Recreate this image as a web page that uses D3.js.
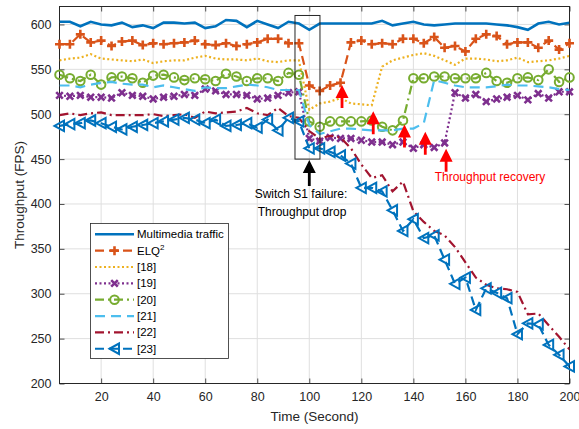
<!DOCTYPE html>
<html><head><meta charset="utf-8">
<script src="https://cdn.jsdelivr.net/npm/d3@7"></script>
<style>body{margin:0;background:#fff}svg text{font-family:"Liberation Sans",Arial,Helvetica,sans-serif}</style>
</head><body><svg id="c" width="579" height="429"></svg>
<script>
const time = [4,8,12,16,20,24,28,32,36,40,44,48,52,56,60,64,68,72,76,80,84,88,92,96,100,104,108,112,116,120,124,128,132,136,140,144,148,152,156,160,164,168,172,176,180,184,188,192,196,200];
const multimedia = [603,603,598,603,600,599,602,597,599,596,602,602,601,602,596,598,605,604,597,604,600,596,603,601,594,601,601,601,601,601,601,604,599,601,603,600,599,600,601,601,601,601,600,599,597,594,601,603,600,602];
const elq2 = [578,578,589,580,582,576,581,582,577,579,578,579,580,582,578,577,579,576,578,580,584,584,579,579,532,526,532,535,580,582,578,579,578,584,584,579,586,574,576,570,584,589,587,578,580,580,574,582,572,579];
const ref18 = [560,562,563,567,562,561,560,559,561,557,559,560,560,563,565,562,561,561,560,562,559,558,560,560,505,512,514,518,512,511,510,553,560,563,566,568,565,560,555,562,562,561,559,560,563,558,559,560,562,565];
const ref19 = [521,520,521,519,519,518,524,521,520,517,519,520,522,521,528,526,522,522,521,517,518,521,524,525,473,470,474,473,473,471,469,469,466,469,462,466,463,468,524,518,522,514,517,519,521,516,523,518,525,525];
const ref20 = [544,540,537,544,533,541,542,540,535,543,544,541,538,540,539,537,545,542,537,540,540,537,546,544,492,486,492,492,492,492,493,486,482,493,540,540,542,542,540,540,540,546,537,535,540,541,538,550,536,541];
const ref21 = [532,532,530,533,535,536,534,533,533,530,532,530,528,526,530,529,529,531,533,532,530,527,527,527,488,478,481,484,484,483,482,482,482,484,484,490,538,535,532,530,530,530,531,533,532,532,531,530,528,527];
const ref22 = [499,501,499,501,502,499,499,499,499,500,498,499,500,496,503,501,502,503,507,501,499,507,498,496,481,473,476,474,462,444,429,432,414,425,392,380,370,365,352,335,318,310,306,305,302,277,278,265,252,238];
const ref23 = [487,489,490,493,490,486,483,486,488,490,492,494,496,494,490,494,487,488,490,485,494,482,496,492,462,462,458,454,445,418,418,414,393,370,383,362,365,338,311,318,282,306,301,295,255,267,266,243,232,219];
const seriesNames = ["Multimedia traffic","ELQ2","[18]","[19]","[20]","[21]","[22]","[23]"];
const xTicks = [20,40,60,80,100,120,140,160,180,200];
const yTicks = [200,250,300,350,400,450,500,550,600];
const annoDrop = ["Switch S1 failure:","Throughput drop"];
const annoRecovery = "Throughput recovery";
const failureTime = [94.5,104.1];
const failureRange = [450,610];
const recoveryPoints = [[112,538],[124,509],[136,494],[144,486],[152,467]];

const series = [
  {name:seriesNames[0], data:multimedia, color:"#0072BD", dash:null, width:2.6, marker:null},
  {name:seriesNames[1], data:elq2, color:"#D95319", dash:"9,5", width:2.2, marker:"plus"},
  {name:seriesNames[2], data:ref18, color:"#EDB120", dash:"2,2.5", width:2.2, marker:null},
  {name:seriesNames[3], data:ref19, color:"#7E2F8E", dash:"2,2.5", width:2.2, marker:"x"},
  {name:seriesNames[4], data:ref20, color:"#77AC30", dash:"9,4,2,4", width:2.2, marker:"circle"},
  {name:seriesNames[5], data:ref21, color:"#4DBEEE", dash:"10,6", width:2.2, marker:null},
  {name:seriesNames[6], data:ref22, color:"#A2142F", dash:"9,4,2,4", width:2.2, marker:null},
  {name:seriesNames[7], data:ref23, color:"#0072BD", dash:"9,5", width:2.2, marker:"tri"}
];

const svg = d3.select("#c");
const L=59.5, R=569.5, T=6.5, B=383.5;
const x = d3.scaleLinear().domain([4,200]).range([L,R]);
const y = d3.scaleLinear().domain([200,620]).range([B,T]);
const axisCol="#262626";

// grid
const g = svg.append("g");
g.selectAll(".gx").data(xTicks).enter().append("line")
  .attr("x1",d=>x(d)).attr("x2",d=>x(d)).attr("y1",T).attr("y2",B)
  .attr("stroke","#dfdfdf").attr("stroke-width",1);
g.selectAll(".gy").data(yTicks).enter().append("line")
  .attr("y1",d=>y(d)).attr("y2",d=>y(d)).attr("x1",L).attr("x2",R)
  .attr("stroke","#dfdfdf").attr("stroke-width",1);

// axes
const xAxB = d3.axisBottom(x).tickValues(xTicks).tickSizeInner(-5).tickSizeOuter(0).tickPadding(9);
const xAxT = d3.axisTop(x).tickValues(xTicks).tickSizeInner(-5).tickSizeOuter(0).tickFormat("");
const yAxL = d3.axisLeft(y).tickValues(yTicks).tickSizeInner(-5).tickSizeOuter(0).tickPadding(8);
const yAxR = d3.axisRight(y).tickValues(yTicks).tickSizeInner(-5).tickSizeOuter(0).tickFormat("");
function styleAx(sel){
  sel.select(".domain").remove();
  sel.selectAll("line").attr("stroke",axisCol).attr("stroke-width",0.8);
  sel.selectAll("text").attr("fill",axisCol).style("font-size","12.5px").style("font-family","'Liberation Sans',Arial,sans-serif");
}
svg.append("g").attr("transform",`translate(0,${B})`).call(xAxB).call(styleAx);
svg.append("g").attr("transform",`translate(0,${T})`).call(xAxT).call(styleAx);
svg.append("g").attr("transform",`translate(${L},0)`).call(yAxL).call(styleAx);
svg.append("g").attr("transform",`translate(${R},0)`).call(yAxR).call(styleAx);
svg.append("rect").attr("x",L).attr("y",T).attr("width",R-L).attr("height",B-T)
  .attr("fill","none").attr("stroke",axisCol).attr("stroke-width",1);

svg.append("text").attr("x",(L+R)/2).attr("y",421).attr("text-anchor","middle")
  .attr("fill",axisCol).style("font-size","13.5px").text("Time (Second)");
svg.append("text").attr("transform",`translate(24,${(T+B)/2}) rotate(-90)`).attr("text-anchor","middle")
  .attr("fill",axisCol).style("font-size","13.5px").text("Throughput (FPS)");

// markers
function drawMarker(sel, type, color){
  if(type==="plus"){
    sel.append("path").attr("d","M-4.5,0H4.5M0,-4.5V4.5").attr("stroke",color).attr("stroke-width",2.6).attr("fill","none");
  } else if(type==="x"){
    sel.append("path").attr("d","M-3.3,-3.3L3.3,3.3M-3.3,3.3L3.3,-3.3").attr("stroke",color).attr("stroke-width",2.6).attr("fill","none");
  } else if(type==="circle"){
    sel.append("circle").attr("r",4.3).attr("stroke",color).attr("stroke-width",2).attr("fill","none");
  } else if(type==="tri"){
    sel.append("path").attr("d","M-5,0L4.5,-5.2L4.5,5.2Z").attr("stroke",color).attr("stroke-width",2).attr("fill","none").attr("stroke-linejoin","miter");
  }
}

svg.append("clipPath").attr("id","clip").append("rect").attr("x",L).attr("y",T).attr("width",R-L).attr("height",B-T);
const line = d3.line().x((d,i)=>x(time[i])).y(d=>y(d));
const plot = svg.append("g");
series.forEach(s=>{
  plot.append("path").attr("d",line(s.data)).attr("fill","none").attr("stroke",s.color)
    .attr("stroke-width",s.width).attr("stroke-dasharray",s.dash).attr("clip-path","url(#clip)");
  if(s.marker){
    s.data.forEach((v,i)=>{
      const m = plot.append("g").attr("transform",`translate(${x(time[i])},${y(v)})`);
      drawMarker(m, s.marker, s.color);
    });
  }
});

// legend
const lg = svg.append("g");
lg.append("rect").attr("x",90.5).attr("y",223.5).attr("width",138).attr("height",135)
  .attr("fill","#fff").attr("stroke",axisCol).attr("stroke-width",0.8);
series.forEach((s,k)=>{
  const yy = 234.3 + k*16.35;
  lg.append("line").attr("x1",95).attr("x2",134).attr("y1",yy).attr("y2",yy)
    .attr("stroke",s.color).attr("stroke-width",s.width).attr("stroke-dasharray",s.dash);
  if(s.marker){ drawMarker(lg.append("g").attr("transform",`translate(114.5,${yy})`), s.marker, s.color); }
  const t = lg.append("text").attr("x",137).attr("y",yy+4).attr("fill","#000").style("font-size","11.5px");
  if(s.name==="ELQ2"){
    t.append("tspan").text("ELQ");
    t.append("tspan").attr("dy",-5).style("font-size","8px").text("2");
  } else t.text(s.name);
});

// failure box
svg.append("rect").attr("x",x(failureTime[0])).attr("y",y(failureRange[1])).attr("width",x(failureTime[1])-x(failureTime[0]))
  .attr("height",y(failureRange[0])-y(failureRange[1])).attr("fill","none").attr("stroke","#262626").attr("stroke-width",1);

function arrow(cx, tipY, tailY, color){
  const hw=6.5, hl=13, sw=1.4;
  svg.append("path").attr("d",
    `M${cx},${tipY}L${cx+hw},${tipY+hl}L${cx+sw},${tipY+hl}L${cx+sw},${tailY}L${cx-sw},${tailY}L${cx-sw},${tipY+hl}L${cx-hw},${tipY+hl}Z`)
    .attr("fill",color);
}
arrow(x(100), 160, 186, "#000");
svg.append("text").attr("x",301).attr("y",198).attr("text-anchor","middle").attr("fill","#000").style("font-size","12px").text(annoDrop[0]);
svg.append("text").attr("x",302).attr("y",216).attr("text-anchor","middle").attr("fill","#000").style("font-size","12px").text(annoDrop[1]);

recoveryPoints.forEach(p=>{
  const cx = x(p[0])+1.5;
  const tip = y(p[1])+5;
  arrow(cx, tip, tip+23, "#FF0000");
});
svg.append("text").attr("x",490).attr("y",181).attr("text-anchor","middle").attr("fill","#FF0000").style("font-size","12px").text(annoRecovery);
</script></body></html>
